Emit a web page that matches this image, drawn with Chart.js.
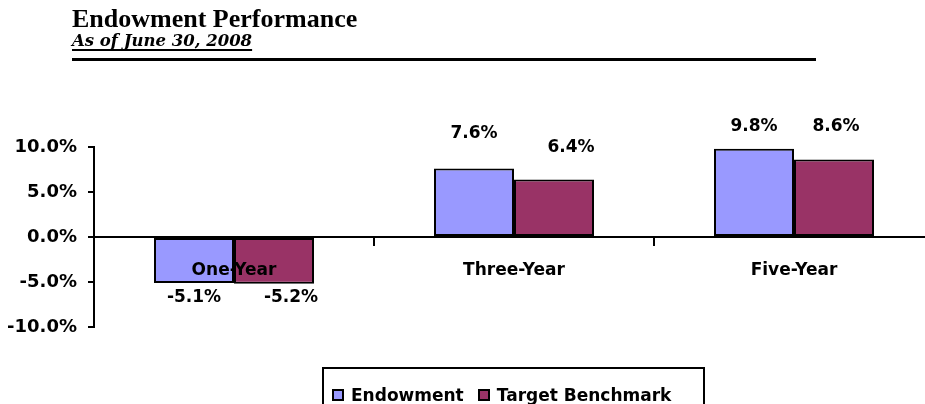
<!DOCTYPE html>
<html>
<head>
<meta charset="utf-8">
<script src="https://cdn.jsdelivr.net/npm/chart.js@4/dist/chart.umd.min.js"></script>
<style>
    html, body { margin: 0; padding: 0; overflow: hidden; background: #fff; }
    #wrap { position: relative; width: 925px; height: 404px; overflow: hidden; }
    #chart { position: absolute; left: 0; top: 0; }
    .titulo { position: absolute; left: 72px; top: 6px; font-family: 'Liberation Serif', serif; font-size: 26px; line-height: 26px; font-weight: bold; color: #000; white-space: nowrap; }
    .subtitulo { position: absolute; left: 72px; top: 33px; font-family: 'DejaVu Serif', serif; font-size: 16.5px; line-height: 16px; font-weight: bold; font-style: italic; text-decoration: underline; text-decoration-thickness: 2px; text-underline-offset: 3px; color: #000; white-space: nowrap; }
    .regua { position: absolute; left: 72px; top: 58px; width: 744px; height: 3px; background: #000; }
    #legenda { position: absolute; left: 322px; top: 367px; width: 383px; height: 50px; box-sizing: border-box; border: 2px solid #000; padding: 6px 0 0 8px; display: flex; gap: 14px; font-family: 'DejaVu Sans', sans-serif; font-weight: bold; font-size: 17px; line-height: 20px; }
    #legenda .item { display: flex; align-items: center; gap: 7px; }
    #legenda .cor { width: 12px; height: 12px; border: 2px solid #000; box-sizing: border-box; }
</style>
</head>
<body>
<div id="wrap">
    <canvas id="chart" width="940" height="404"></canvas>
    <div class="titulo">Endowment Performance</div>
    <div class="subtitulo">As of June 30, 2008</div>
    <div class="regua"></div>
    <div id="legenda"></div>
</div>
<script>
// Dados
const categories = ['One-Year', 'Three-Year', 'Five-Year'];
const seriesNames = ['Endowment', 'Target Benchmark'];
const endowment = [-5.1, 7.6, 9.8];
const benchmark = [-5.2, 6.4, 8.6];
const yTicks = [-10, -5, 0, 5, 10];

// Estilo
const seriesColors = ['#9999FF', '#993366'];
// deslocamento [dx, dy] dos rótulos em relação à ponta da barra
const labelShift = [
    [[0, 15], [0, -35], [0, -22]],
    [[17, 14], [17, -32], [2, -33]]
];

const FONT = "'DejaVu Sans', sans-serif";
Chart.defaults.font.family = FONT;
Chart.defaults.color = '#000';

// Rótulos de valor sobre as barras
const rotulos = {
    id: 'rotulos',
    afterDatasetsDraw(chart) {
        const ctx = chart.ctx;
        ctx.save();
        ctx.font = 'bold 17px ' + FONT;
        ctx.fillStyle = '#000';
        ctx.textAlign = 'center';
        ctx.textBaseline = 'middle';
        chart.data.datasets.forEach(function (ds, i) {
            chart.getDatasetMeta(i).data.forEach(function (bar, j) {
                const s = labelShift[i][j];
                ctx.fillText(ds.data[j].toFixed(1) + '%', bar.x + s[0], bar.y + s[1]);
            });
        });
        ctx.restore();
    }
};

new Chart(document.getElementById('chart'), {
    type: 'bar',
    data: {
        labels: categories,
        datasets: [endowment, benchmark].map(function (vals, i) {
            return {
                label: seriesNames[i],
                data: vals,
                backgroundColor: seriesColors[i],
                borderColor: '#000',
                borderWidth: 2,
                borderSkipped: false,
                barPercentage: 1,
                categoryPercentage: 160 / 280
            };
        })
    },
    options: {
        responsive: false,
        animation: false,
        devicePixelRatio: 1,
        layout: { padding: { top: 147, bottom: 77, left: 0, right: 6 } },
        plugins: {
            legend: { display: false },
            tooltip: { enabled: false }
        },
        scales: {
            x: {
                position: { y: 0 },
                grid: { offset: true, drawOnChartArea: false, tickLength: 8, color: '#000', lineWidth: 2, z: 1 },
                border: { color: '#000', width: 2, z: 1 },
                ticks: { padding: 15, font: { size: 17, weight: 'bold' }, color: '#000', z: 2 }
            },
            y: {
                min: -10,
                max: 10,
                afterBuildTicks: function (scale) {
                    scale.ticks = yTicks.map(function (v) { return { value: v }; });
                },
                afterFit: function (scale) { scale.width = 94; },
                grid: { drawOnChartArea: false, tickLength: 6, color: '#000', lineWidth: 2 },
                border: { color: '#000', width: 2 },
                ticks: {
                    padding: 11,
                    font: { size: 18, weight: 'bold' },
                    color: '#000',
                    callback: function (v) { return v.toFixed(1) + '%'; }
                }
            }
        }
    },
    plugins: [rotulos]
});

// Legenda em HTML (com moldura)
const legenda = document.getElementById('legenda');
seriesNames.forEach(function (nome, i) {
    const item = document.createElement('div');
    item.className = 'item';
    item.innerHTML = '<span class="cor" style="background:' + seriesColors[i] + '"></span><span>' + nome + '</span>';
    legenda.appendChild(item);
});
</script>
</body>
</html>
